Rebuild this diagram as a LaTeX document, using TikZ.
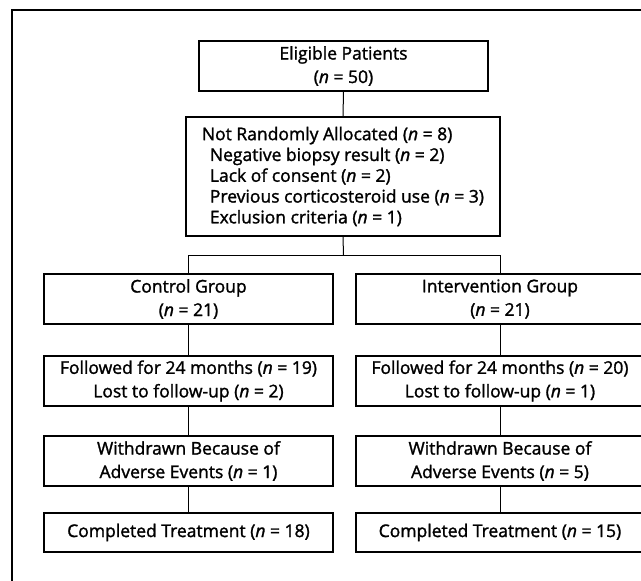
\documentclass[tikz,border=0pt]{standalone}
\usepackage{fontspec}
\setmainfont{Open Sans}[FakeBold=1.5]
\begin{document}
\begin{tikzpicture}[x=1pt,y=-1pt,
  box/.style={draw=black, line width=2pt, inner sep=0pt, align=center,
    font=\fontsize{17.5}{23.5}\selectfont},
  colbox/.style={box, minimum width=289pt, minimum height=50pt},
  link/.style={draw=black, line width=1pt},
  frame/.style={draw=black, line width=1.5pt}]
\useasboundingbox (0,0) rectangle (641,581);
\clip (0,0) rectangle (641,581);
\coordinate (fb) at (12,590);
\coordinate (fc) at (12,9.75);
\coordinate (fr) at (660,9.75);
\draw[frame] (fb) -- (fc) -- (fr);

\node[box, minimum width=289pt, minimum height=50pt] (elig) at (343.5,66)
  {Eligible Patients\\(\textit{n} = 50)};
\node[box, align=left, minimum width=314pt, minimum height=119pt,
  font=\fontsize{17.5}{20.8}\selectfont] (notr) at (343,176.5)
  {Not Randomly Allocated (\textit{n} = 8)\\
   \hspace*{8pt}Negative biopsy result (\textit{n} = 2)\\
   \hspace*{8pt}Lack of consent (\textit{n} = 2)\\
   \hspace*{8pt}Previous corticosteroid use (\textit{n} = 3)\\
   \hspace*{8pt}Exclusion criteria (\textit{n} = 1)};

\node[colbox] (ctrl) at (188.5,299) {Control Group\\(\textit{n} = 21)};
\node[colbox] (intv) at (500,299) {Intervention Group\\(\textit{n} = 21)};
\node[colbox] (cfol) at (188.5,381) {Followed for 24 months (\textit{n} = 19)\\Lost to follow-up (\textit{n} = 2)};
\node[colbox] (ifol) at (500,381) {Followed for 24 months (\textit{n} = 20)\\Lost to follow-up (\textit{n} = 1)};
\node[colbox] (cwd) at (188.5,461) {Withdrawn Because of\\Adverse Events (\textit{n} = 1)};
\node[colbox] (iwd) at (500,461) {Withdrawn Because of\\Adverse Events (\textit{n} = 5)};
\node[colbox, minimum height=39pt] (ccomp) at (188.5,532.5) {Completed Treatment (\textit{n} = 18)};
\node[colbox, minimum height=39pt] (icomp) at (500,532.5) {Completed Treatment (\textit{n} = 15)};

\coordinate (split) at (343.5,255);
\draw[link] (elig.south) -- (notr.north);
\draw[link] (notr.south) -- (split);
\draw[link] (split) -| (ctrl.north);
\draw[link] (split) -| (intv.north);
\draw[link] (ctrl.south) -- (cfol.north);
\draw[link] (intv.south) -- (ifol.north);
\draw[link] (cfol.south) -- (cwd.north);
\draw[link] (ifol.south) -- (iwd.north);
\draw[link] (cwd.south) -- (ccomp.north);
\draw[link] (iwd.south) -- (icomp.north);
\end{tikzpicture}
\end{document}
